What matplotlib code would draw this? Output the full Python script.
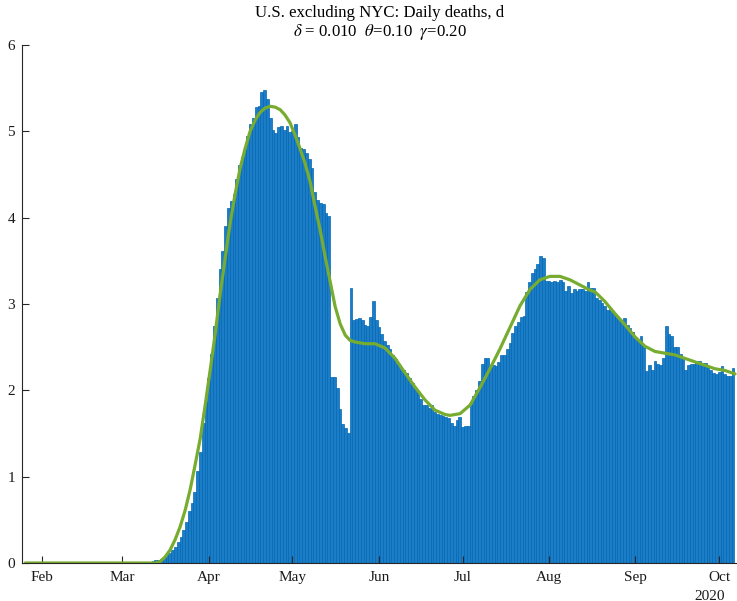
import datetime as dt
import matplotlib
matplotlib.use("Agg")
import matplotlib.pyplot as plt
import matplotlib.dates as mdates

plt.rcParams['font.family'] = ['Liberation Serif', 'DejaVu Serif']
plt.rcParams['mathtext.fontset'] = 'stix'

# Days are counted from 1 Feb 2020
start = dt.date(2020, 2, 1)

# Daily deaths (thousands), one bar per day starting at day 40 (11 Mar)
bar_first_day = 40
deaths = [
    0.02, 0.03, 0.04, 0.05, 0.07, 0.09, 0.12, 0.15, 0.19,
    0.24, 0.30, 0.38, 0.48, 0.60, 0.70, 0.82, 1.07, 1.28, 1.62,
    1.86, 2.14, 2.42, 2.75, 3.07, 3.41, 3.61, 3.90, 4.11, 4.19,
    4.27, 4.45, 4.61, 4.70, 4.80, 4.95, 5.09, 5.15, 5.28, 5.29,
    5.46, 5.48, 5.37, 5.15, 5.02, 4.98, 5.05, 5.06, 5.02, 5.06,
    4.99, 5.00, 5.09, 4.94, 4.81, 4.79, 4.75, 4.68, 4.57, 4.30,
    4.20, 4.17, 4.16, 4.05, 4.02, 2.16, 2.15, 2.03, 1.78, 1.61,
    1.56, 1.51, 3.19, 2.82, 2.83, 2.84, 2.81, 2.76, 2.75, 2.85,
    3.03, 2.82, 2.73, 2.65, 2.57, 2.53, 2.48, 2.41, 2.36, 2.30,
    2.24, 2.24, 2.20, 2.14, 2.08, 2.02, 1.97, 1.90, 1.83, 1.83,
    1.79, 1.83, 1.75, 1.73, 1.71, 1.70, 1.69, 1.68, 1.62,
    1.59, 1.66, 1.69, 1.58, 1.59, 1.59, 1.83, 1.93, 2.00, 2.11,
    2.30, 2.38, 2.38, 2.26, 2.29, 2.28, 2.33, 2.41, 2.41, 2.48,
    2.55, 2.66, 2.74, 2.79, 2.85, 2.86, 3.14, 3.26, 3.36, 3.41,
    3.46, 3.56, 3.53, 3.27, 3.27, 3.25, 3.27, 3.25, 3.28,
    3.26, 3.15, 3.21, 3.13, 3.17, 3.15, 3.17, 3.17, 3.15, 3.26,
    3.19, 3.19, 3.07, 3.05, 3.01, 2.98, 2.93, 2.94, 2.90, 2.86,
    2.83, 2.80, 2.84, 2.76, 2.72, 2.67, 2.61, 2.58, 2.63, 2.51,
    2.22, 2.29, 2.23, 2.34, 2.31, 2.29, 2.37, 2.75, 2.65, 2.63,
    2.50, 2.50, 2.42, 2.36, 2.24, 2.29, 2.31, 2.31, 2.33, 2.34,
    2.32, 2.32, 2.27, 2.24, 2.20, 2.19, 2.21, 2.28, 2.19, 2.17,
    2.17, 2.26,
]

# Fitted model curve (day, value)
fit_days = [-5.8, 39.0, 40.8, 42.5, 44.3, 46.1, 47.9, 49.7, 51.5, 53.3, 55.1,
            56.9, 58.7, 60.5, 62.3, 64.0, 65.8, 67.6, 69.4, 71.2, 73.0,
            74.8, 76.6, 78.4, 80.2, 82.0, 83.8, 85.6, 87.3, 89.1, 90.9,
            92.7, 94.5, 96.3, 98.1, 99.9, 101.7, 103.5, 105.3, 107.1,
            108.9, 110.6, 112.4, 116.0, 119.6, 123.2, 126.8, 130.4, 133.9,
            137.5, 141.1, 144.7, 146.5, 150.1, 153.7, 157.2, 160.8, 164.4,
            168.0, 171.6, 175.2, 178.7, 182.3, 185.9, 189.5, 193.1, 196.7,
            198.5, 202.0, 205.6, 209.2, 212.8, 216.4, 220.0, 223.6, 227.2,
            230.7, 234.3, 237.9, 241.5, 245.1, 248.7]
fit_vals = [0.0, 0.0, 0.0, 0.015, 0.07, 0.15, 0.27, 0.42, 0.61, 0.85, 1.14,
            1.44, 1.83, 2.24, 2.66, 3.10, 3.52, 3.93, 4.27, 4.57, 4.80,
            5.00, 5.13, 5.22, 5.27, 5.29, 5.28, 5.25, 5.19, 5.10, 4.96,
            4.80, 4.63, 4.42, 4.13, 3.86, 3.55, 3.26, 2.97, 2.77,
            2.64, 2.58, 2.56, 2.54, 2.54, 2.49, 2.37, 2.20, 2.04,
            1.89, 1.77, 1.72, 1.71, 1.73, 1.83, 2.03, 2.25, 2.48,
            2.73, 2.98, 3.17, 3.28, 3.32, 3.32, 3.28, 3.22, 3.16,
            3.14, 3.03, 2.89, 2.76, 2.62, 2.51, 2.45, 2.43, 2.41,
            2.37, 2.33, 2.29, 2.25, 2.23, 2.19]

month_labels = ['Feb', 'Mar', 'Apr', 'May', 'Jun', 'Jul', 'Aug', 'Sep', 'Oct']

t0 = mdates.date2num(start)
bar_x = [t0 + bar_first_day + i for i in range(len(deaths))]
fit_x = [t0 + d for d in fit_days]
month_ticks = [mdates.date2num(dt.date(2020, m, 1)) for m in range(2, 11)]

fig = plt.figure(figsize=(7.37, 6.01), dpi=100)
ax = fig.add_axes([22 / 737, 38 / 601, 715 / 737, 518 / 601])

ax.bar(bar_x, deaths, width=1.0, color='#1c7cc6', edgecolor='#0068b4',
       linewidth=0.5)
ax.plot(fit_x, fit_vals, color='#77AC30', linewidth=2.3, solid_capstyle='round')

ax.set_xlim(t0 - 7.0, t0 + 249.4)
ax.set_ylim(0, 6)
ax.set_yticks(range(7))
ax.set_xticks(month_ticks)
ax.set_xticklabels(month_labels)

axis_col = '#262626'
for side in ['top', 'right']:
    ax.spines[side].set_visible(False)
for side in ['left', 'bottom']:
    ax.spines[side].set_color(axis_col)
    ax.spines[side].set_linewidth(0.8)
ax.tick_params(direction='in', length=5, width=0.8, color=axis_col,
               labelsize=11, labelcolor='#1a1a1a')
ax.tick_params(axis='x', pad=6)
ax.tick_params(axis='y', pad=5)

ax.text(1.0 - 27 / 715, -33 / 518, '2020', transform=ax.transAxes,
        ha='center', va='center', fontsize=11, color='#1a1a1a')

title_x = (22 + 715 / 2) / 737
fig.text(title_x, 1 - 13 / 601, 'U.S. excluding NYC: Daily deaths, d',
         ha='center', va='center', fontsize=12.1)
fig.text(title_x, 1 - 32 / 601,
         r'$\delta$ = 0.010  $\theta$=0.10  $\gamma$=0.20',
         ha='center', va='center', fontsize=12.1)

fig.savefig('out.png', dpi=100)
